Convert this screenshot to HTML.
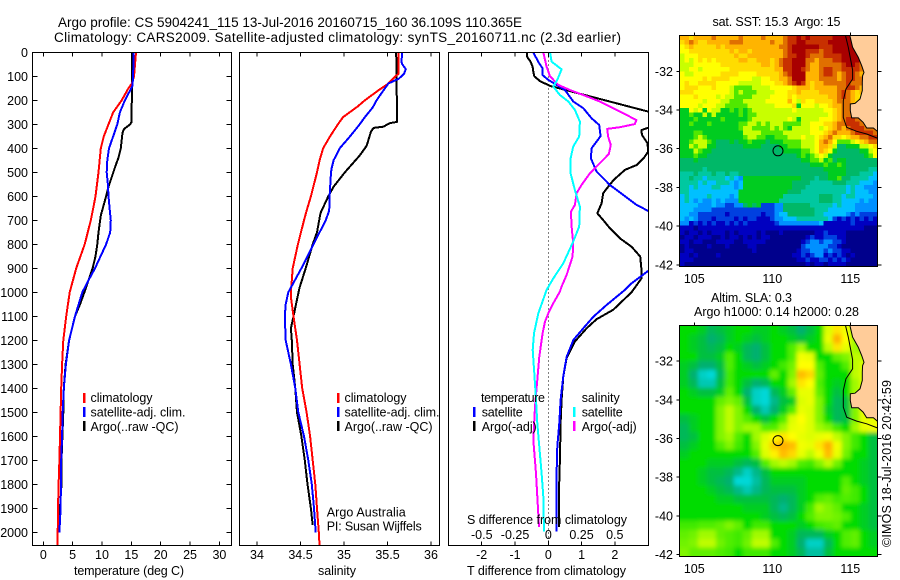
<!DOCTYPE html>
<html lang="en">
<head>
<meta charset="utf-8">
<title>Argo profile CS 5904241_115</title>
<style>
html,body{margin:0;padding:0;background:#fff;width:900px;height:580px;overflow:hidden}
svg{display:block}
text{font-family:"Liberation Sans",sans-serif;font-size:12.5px;fill:#000}
.ttl{font-size:13.5px}
</style>
</head>
<body>
<svg id="fig" xmlns="http://www.w3.org/2000/svg" width="900" height="580" viewBox="0 0 900 580">
<defs>
<clipPath id="cp1"><rect x="32.5" y="52.5" width="199" height="493"/></clipPath>
<clipPath id="cp2"><rect x="239.5" y="52.5" width="200" height="493"/></clipPath>
<clipPath id="cp3"><rect x="448.5" y="52.5" width="200" height="493"/></clipPath>
<clipPath id="cpm1"><rect x="680" y="35.5" width="197.5" height="231"/></clipPath>
<clipPath id="cpm2"><rect x="680" y="325.5" width="197.5" height="231"/></clipPath>
<filter id="smooth" x="-10%" y="-10%" width="120%" height="120%"><feGaussianBlur stdDeviation="2"/></filter>
</defs>
<rect width="900" height="580" fill="#fff"/>

<text class="ttl" x="58" y="27" textLength="464">Argo profile: CS 5904241_115 13-Jul-2016 20160715_160 36.109S 110.365E</text>
<text class="ttl" x="54" y="42" textLength="567">Climatology: CARS2009. Satellite-adjusted climatology: synTS_20160711.nc (2.3d earlier)</text>

<g id="panelT" ></g>
<g id="panelS"></g>
<g id="panelD"></g>
<g id="map1"></g>
<g id="map2"></g>

<text x="74" y="575" textLength="110">temperature (deg C)</text>
<text x="318" y="575" textLength="38">salinity</text>
<text x="467" y="575" textLength="159">T difference from climatology</text>

<g>
<rect x="83" y="393" width="2.5" height="10" fill="#f00"/>
<text x="90.5" y="402" textLength="62">climatology</text>
<rect x="83" y="407" width="2.5" height="10" fill="#00f"/>
<text x="90.5" y="416.5" textLength="95">satellite-adj. clim.</text>
<rect x="83" y="421" width="2.5" height="10" fill="#000"/>
<text x="90.5" y="431" textLength="88">Argo(..raw -QC)</text>
</g>
<g>
<rect x="337" y="393" width="2.5" height="10" fill="#f00"/>
<text x="344.5" y="402" textLength="62">climatology</text>
<rect x="337" y="407" width="2.5" height="10" fill="#00f"/>
<text x="344.5" y="416.5" textLength="95">satellite-adj. clim.</text>
<rect x="337" y="421" width="2.5" height="10" fill="#000"/>
<text x="344.5" y="431" textLength="88">Argo(..raw -QC)</text>
</g>
<text x="326.7" y="516.7" textLength="79">Argo Australia</text>
<text x="326.7" y="530.7" textLength="95">PI: Susan Wijffels</text>
<g>
<text x="481" y="402" textLength="64">temperature</text>
<rect x="473" y="407" width="2.5" height="10" fill="#00f"/>
<text x="481.7" y="416.5" textLength="41">satellite</text>
<rect x="473" y="421" width="2.5" height="10" fill="#000"/>
<text x="481.7" y="431" textLength="55">Argo(-adj)</text>
<text x="581.7" y="402" textLength="38">salinity</text>
<rect x="573" y="407" width="2.5" height="10" fill="#0ff"/>
<text x="581.7" y="416.5" textLength="41">satellite</text>
<rect x="573" y="421" width="2.5" height="10" fill="#f0f"/>
<text x="581.7" y="431" textLength="55">Argo(-adj)</text>
</g>
<text x="467" y="524" textLength="160">S difference from climatology</text>

<text x="712.5" y="26" textLength="128" xml:space="preserve">sat. SST: 15.3  Argo: 15</text>
<text x="711" y="302" textLength="81">Altim. SLA: 0.3</text>
<text x="694" y="316" textLength="165">Argo h1000: 0.14 h2000: 0.28</text>
<text x="891" y="547" transform="rotate(-90 891 547)" textLength="167">©IMOS 18-Jul-2016 20:42:59</text>
</svg>
<script>
/* tick labels */
var depthTicks=[0,100,200,300,400,500,600,700,800,900,1000,1100,1200,1300,1400,1500,1600,1700,1800,1900,2000];
var tempTicks=[0,5,10,15,20,25,30];
var salTicks=[34,34.5,35,35.5,36];
var tdiffTicks=[-2,-1,0,1,2];
var sdiffTicks=[-0.5,-0.25,0,0.25,0.5];
var lonTicks=[105,110,115];
var latTicks=[-32,-34,-36,-38,-40,-42];

/* temperature profiles */
var tClimDepth=[0,100,130,150,200,250,300,350,400,500,600,650,700,800,900,1000,1100,1200,1300,1400,1500,1600,1700,1800,1900,2000,2060];
var tClimValue=[15.8,15.45,15.1,14.5,13.35,11.9,11.1,10.3,9.8,9.4,8.9,8.5,8.1,7.05,5.6,4.5,3.9,3.4,3.2,3.05,2.95,2.85,2.75,2.6,2.5,2.45,2.4];
var tSatDepth=[0,100,140,200,250,300,350,400,450,500,550,600,650,700,750,800,900,950,1000,1100,1200,1300,1400,1500,1600,1700,1800,1900,2000];
var tSatValue=[15.4,15.3,15.2,13.9,13.05,12.6,11.9,11.2,10.9,10.8,11,11.1,11.3,11.5,11.4,10.7,8.8,7.7,6.65,5.4,4.4,3.85,3.5,3.3,3.2,3.05,3,2.95,2.75];
var tArgoDepth=[0,290,300,320,335,400,440,480,520,560,600,680,750,800,850,900,950,1000,1050,1100,1200,1300,1400,1500,1600,1700,1800,1900,1960];
var tArgoValue=[15.15,15.05,14.8,13.75,13.5,13.2,12.8,12.2,11.65,11.1,10.7,9.8,9.4,9.2,8.9,8.4,7.7,7,6.25,5.4,4.4,3.8,3.5,3.4,3.25,3.1,3.1,2.85,2.75];

/* salinity profiles */
var sClimDepth=[0,90,100,130,160,200,225,270,300,350,400,450,500,600,660,700,800,850,900,1000,1020,1100,1200,1300,1400,1500,1600,1700,1800,1900,2000,2060];
var sClimValue=[35.625,35.625,35.59,35.51,35.39,35.24,35.16,34.99,34.93,34.84,34.76,34.72,34.69,34.62,34.57,34.54,34.47,34.44,34.41,34.39,34.39,34.42,34.46,34.49,34.52,34.57,34.61,34.64,34.67,34.69,34.71,34.72];
var sSatDepth=[0,40,50,70,90,110,130,160,200,230,270,300,350,400,450,480,500,600,660,700,750,800,900,1000,1050,1100,1200,1300,1400,1500,1600,1700,1800,1900,2000];
var sSatValue=[35.67,35.66,35.67,35.71,35.69,35.63,35.51,35.45,35.375,35.33,35.24,35.18,35.07,34.95,34.88,34.86,34.85,34.835,34.83,34.79,34.72,34.65,34.51,34.36,34.33,34.32,34.33,34.39,34.44,34.475,34.54,34.59,34.63,34.655,34.675];
var sArgoDepth=[0,290,295,310,315,330,390,430,500,560,600,670,750,800,900,980,1030,1100,1150,1200,1300,1400,1500,1600,1700,1800,1900,1970];
var sArgoValue=[35.6,35.61,35.53,35.45,35.34,35.31,35.26,35.18,35.01,34.88,34.82,34.73,34.69,34.64,34.56,34.49,34.46,34.42,34.39,34.4,34.41,34.44,34.46,34.51,34.55,34.58,34.62,34.64];

/* temperature differences */
var dtArgoDepth=[0,20,40,60,80,100,120,140,247,280,314,324,344,379,414,442,469,490,532,560,587,629,671,699,733,775,810,851,907,942,1000,1073,1112,1150,1205,1275,1350,1448,1546,1685,1824,1977];
var dtArgoValue=[-0.65,-0.63,-0.53,-0.47,-0.45,-0.42,-0.25,0.05,3,3.5,3,2.8,2.81,2.98,3,2.86,2.66,2.3,1.96,1.8,1.65,1.6,1.47,1.65,1.85,2.15,2.5,2.76,2.8,2.8,2.5,1.95,1.45,1.15,0.8,0.55,0.45,0.4,0.37,0.35,0.32,0.32];
var dtSatDepth=[0,40,67,95,115,136,157,205,233,275,303,349,400,442,497,553,594,636,661,700,800,880,911,963,990,1053,1102,1150,1199,1269,1350,1448,1546,1643,1754,1997];
var dtSatValue=[-0.45,-0.3,-0.17,-0.17,0,0.25,0.5,0.75,1.05,1.3,1.53,1.57,1.3,1.28,1.45,1.85,2.25,2.65,3,3.6,3.9,3.4,3,2.5,2.3,1.75,1.35,1.05,0.75,0.55,0.45,0.37,0.33,0.27,0.25,0.24];

/* salinity differences */
var dsArgoDepth=[0,60,100,136,157,178,205,240,282,299,312,319,351,386,424,462,504,553,587,636,664,726,796,851,928,976,997,1046,1088,1122,1171,1268,1365,1476,1615,1754,1851,1977];
var dsArgoValue=[-0.0375,-0.0125,0.0125,0.075,0.1625,0.2625,0.3875,0.5125,0.6625,0.65,0.5375,0.4425,0.45,0.47,0.455,0.3875,0.3125,0.25,0.2125,0.2,0.17,0.175,0.1875,0.1825,0.1375,0.1,0.0875,0.0375,0,-0.025,-0.0425,-0.0675,-0.0825,-0.1,-0.1125,-0.0925,-0.0825,-0.07];
var dsSatDepth=[0,39,71,115,143,178,205,240,289,351,393,442,504,574,643,726,789,879,942,990,1088,1171,1240,1337,1448,1546,1643,1754,1851,1997];
var dsSatValue=[0.0125,0.025,0.1,0.0675,0.0375,0.0875,0.15,0.2,0.2375,0.2325,0.1875,0.1675,0.1675,0.2,0.2375,0.2325,0.1875,0.1125,0.0375,-0.0125,-0.075,-0.1075,-0.1175,-0.105,-0.0925,-0.0825,-0.0675,-0.05,-0.0375,-0.0325];

/* float position */
var argoLon=[110.365];
var argoLat=[-36.109];

/* coastline and shelf-edge contour */
var coastLon=[114.98,115.15,115.51,115.73,115.88,115.79,115.77,115.77,115.62,115.30,115.0,115.0,115.09,115.51,115.83,116.05,116.48,116.73];
var coastLat=[-30.18,-30.76,-31.28,-31.71,-32.06,-32.23,-32.57,-33.0,-33.43,-33.66,-33.69,-34.04,-34.41,-34.41,-34.64,-34.93,-34.93,-35.1];
var shelfLon=[114.70,114.87,115.15,115.15,114.72,114.55,114.55,114.77,115.41,116.05,116.73];
var shelfLat=[-30.18,-30.76,-31.93,-32.40,-32.92,-33.52,-34.38,-34.90,-35.10,-35.24,-35.45];

/* SST colour-bin grid, north to south */
var sstBins=[
[12,12,11,12,12,12,12,13,12,12,12,12,12,13,12,12,12,12,13,12,12,12,12,13,14,14,15,14,15,14,14,14,14,14,15,15,15,15,15,15,13,13,13,13],
[11,12,13,12,11,11,12,12,12,12,12,13,13,13,12,12,12,12,12,12,13,12,12,13,14,14,15,15,14,14,14,14,14,15,15,15,15,15,15,15,13,13,13,13],
[10,11,12,11,11,11,11,11,12,11,12,12,12,12,12,12,12,12,12,12,12,12,13,13,14,15,15,15,15,15,15,14,14,14,15,15,15,15,15,15,13,13,13,13],
[10,10,11,11,11,11,11,11,11,11,11,12,11,12,12,11,12,12,12,12,12,12,12,13,14,15,15,15,14,14,14,13,14,14,15,15,15,15,15,15,13,13,13,13],
[9,10,10,10,11,11,11,11,11,11,11,11,12,11,11,12,12,12,12,12,12,12,12,13,14,14,15,15,14,13,13,13,14,14,14,14,15,15,15,15,13,13,13,13],
[9,10,9,10,11,10,11,10,11,11,11,11,11,12,12,11,11,12,12,12,11,12,13,14,14,15,15,15,13,13,12,13,13,13,14,14,15,15,15,15,13,13,13,13],
[9,9,9,10,10,10,10,10,10,11,11,11,11,11,11,11,11,11,12,12,11,12,13,14,14,15,15,15,13,12,12,13,13,13,13,13,14,15,15,14,13,13,13,13],
[9,9,10,10,9,10,10,10,10,10,10,11,11,11,11,11,11,11,11,11,11,12,12,14,14,15,15,14,13,12,12,13,14,14,13,13,14,14,14,14,13,13,13,13],
[10,9,9,10,10,10,10,10,10,11,11,11,11,10,10,10,10,11,11,11,11,11,12,13,14,15,15,15,12,12,12,13,14,14,13,12,13,14,14,13,12,13,13,13],
[10,10,10,10,10,11,10,11,11,11,11,10,10,10,10,10,9,9,10,10,11,11,12,12,13,15,15,15,12,12,12,13,13,13,13,12,13,14,14,13,13,13,13,13],
[10,11,10,10,11,11,11,11,10,10,10,10,10,9,9,9,9,9,10,10,10,11,11,12,13,14,15,14,12,11,12,12,13,13,13,13,13,14,13,13,13,13,13,13],
[10,11,11,11,10,10,10,11,10,10,10,9,8,8,8,8,9,9,9,9,10,10,10,10,10,11,12,12,12,11,12,12,12,12,12,13,13,14,14,13,12,13,13,13],
[11,11,11,10,10,10,10,10,10,10,10,9,8,9,8,8,8,9,9,9,9,10,10,10,11,11,12,11,11,11,11,12,12,12,12,13,14,13,12,11,12,13,13,13],
[10,10,10,11,10,10,10,10,9,10,9,9,8,8,8,8,9,9,9,9,10,10,10,10,11,10,11,11,11,11,11,11,11,12,12,13,14,13,12,11,10,13,13,13],
[10,10,10,10,10,9,10,10,10,9,9,8,8,8,9,9,9,9,9,10,10,10,10,10,12,10,9,11,10,10,11,11,11,11,12,13,13,13,12,11,10,13,13,13],
[10,10,10,10,9,10,10,10,9,9,8,8,8,8,8,9,9,9,9,9,9,10,10,10,10,11,7,10,10,10,9,10,10,11,12,12,13,13,12,9,7,13,13,13],
[7,7,10,9,10,7,10,9,9,7,7,8,7,8,7,8,9,9,9,9,9,9,9,9,9,10,9,9,9,9,9,9,10,10,11,12,13,13,13,12,13,13,13,13],
[7,7,8,7,7,9,7,9,7,7,7,7,7,8,7,8,8,9,9,9,9,9,9,9,9,9,9,9,9,9,9,9,9,10,11,12,13,13,13,13,13,13,13,13],
[7,7,7,8,7,7,7,7,7,8,7,7,7,7,7,8,9,9,9,9,9,9,9,9,10,9,7,9,9,9,9,10,10,10,11,12,13,14,14,13,13,13,13,13],
[7,7,8,7,7,7,8,7,7,7,7,7,7,8,8,9,9,8,9,8,9,9,9,8,8,8,8,9,9,10,10,10,11,11,12,13,13,14,14,14,13,13,13,13],
[7,7,7,7,7,7,7,7,7,7,7,7,7,8,9,9,8,8,8,8,9,8,9,8,7,9,9,9,9,10,10,9,10,11,12,13,12,13,14,14,14,13,13,13],
[7,7,7,8,8,7,7,7,7,7,7,7,7,7,9,9,9,9,8,8,8,8,8,9,9,9,9,9,9,10,10,10,11,12,13,12,12,12,13,14,14,14,14,13],
[7,7,7,8,9,8,7,7,7,7,7,7,7,7,8,9,9,8,8,7,7,8,8,8,9,9,9,10,9,9,10,11,12,13,11,11,10,11,12,12,13,13,14,14],
[7,7,8,9,9,9,8,7,6,6,6,7,6,7,7,8,7,7,7,6,7,7,7,8,8,8,8,9,9,9,10,12,13,12,10,8,8,8,9,10,11,12,13,13],
[7,7,9,8,9,9,7,7,6,6,6,6,6,6,7,7,7,7,6,6,6,6,7,7,8,8,8,9,9,9,10,12,12,11,9,6,6,7,7,7,9,9,10,11],
[7,7,7,9,8,7,7,6,6,6,6,6,6,6,6,6,6,6,6,6,6,6,6,7,7,7,7,8,8,9,10,12,11,10,7,6,6,6,6,6,7,7,9,10],
[7,7,7,8,7,7,6,6,6,6,6,6,6,6,6,6,6,6,6,6,6,6,6,6,6,6,7,8,7,8,9,10,9,7,6,6,6,6,6,6,6,7,8,10],
[6,6,6,7,6,6,6,6,6,6,6,6,6,6,6,6,6,6,6,6,6,6,6,6,6,6,6,7,7,8,8,9,7,8,6,7,7,6,6,6,6,6,6,6],
[6,6,6,6,6,6,6,6,6,6,6,6,6,6,6,6,6,6,6,6,6,6,6,6,6,6,6,6,6,7,7,7,8,7,7,8,7,6,6,6,6,6,6,6],
[6,6,6,6,6,5,6,6,6,6,6,6,6,6,6,6,6,6,6,6,6,6,6,6,6,6,6,6,6,6,6,6,7,7,7,7,7,6,6,6,6,6,5,5],
[5,5,5,6,5,5,5,6,5,5,6,5,5,6,6,6,6,6,6,6,6,6,6,6,6,6,6,6,6,6,6,6,6,7,7,7,7,6,6,6,5,5,5,4],
[5,5,6,5,5,4,5,5,5,5,4,5,4,3,7,7,7,7,7,7,7,7,7,7,7,7,7,6,6,6,5,6,6,7,7,8,6,6,5,5,5,5,4,4],
[5,5,5,5,4,5,4,4,5,5,5,4,3,4,7,7,7,7,7,7,7,7,7,7,7,6,6,6,6,5,5,5,5,5,6,6,6,5,5,5,4,4,4,3],
[5,5,4,5,4,4,4,5,5,4,4,4,3,4,7,7,7,7,7,7,7,7,7,7,7,6,6,6,5,5,5,5,5,5,5,5,5,4,5,4,4,3,3,3],
[5,5,4,4,4,4,4,4,4,4,4,4,4,7,7,7,7,7,7,7,7,7,7,7,6,6,6,5,5,5,5,5,5,5,5,5,5,4,5,4,4,4,3,3],
[4,5,4,4,4,4,5,4,4,4,4,3,4,7,7,7,7,7,7,7,7,7,7,5,5,5,5,5,5,5,5,6,6,6,5,5,4,5,5,4,4,4,4,3],
[4,5,4,3,4,3,3,4,3,4,3,3,3,7,7,7,7,7,7,7,7,7,5,5,5,5,5,5,5,5,5,6,6,6,5,5,4,4,4,4,3,4,3,3],
[4,4,4,4,3,3,3,4,3,3,2,2,3,3,6,7,6,7,2,2,2,3,3,6,6,6,6,6,6,5,5,5,5,5,4,5,4,4,4,3,3,3,3,3],
[4,4,4,3,3,3,3,2,2,2,2,2,2,2,2,2,2,2,2,2,2,3,3,6,6,6,6,6,6,6,5,5,5,4,4,4,4,4,4,3,3,3,3,3],
[4,4,3,3,2,2,2,2,2,2,1,2,2,2,2,2,2,2,1,2,2,3,4,4,6,6,6,6,6,6,5,5,4,4,4,4,4,3,2,3,2,2,2,2],
[4,3,4,3,2,2,2,1,2,2,2,2,1,2,1,2,2,1,1,1,2,3,3,4,4,4,5,5,5,5,5,5,5,4,2,1,2,1,2,1,2,1,2,1],
[3,3,1,2,1,2,1,2,1,1,2,1,2,1,2,1,1,1,1,1,1,2,3,3,3,3,3,3,3,3,3,4,1,1,1,1,1,1,2,1,1,1,1,1],
[1,1,1,0,1,1,1,1,1,1,1,1,1,1,1,1,1,1,1,1,1,1,1,1,1,1,1,1,1,1,1,1,1,1,1,1,1,1,1,1,1,0,0,0],
[1,0,1,1,0,1,0,1,1,1,0,1,0,1,1,1,1,0,1,0,0,0,1,0,0,0,0,0,0,0,1,1,2,1,1,1,1,0,0,0,0,0,0,0],
[0,1,1,0,1,1,1,0,0,1,0,1,1,0,1,0,1,0,1,1,0,0,0,0,0,0,0,0,1,2,1,1,2,2,2,1,1,0,0,0,0,0,0,0],
[1,1,0,1,1,0,0,0,1,1,1,1,0,0,1,1,1,1,1,0,0,0,0,0,0,0,0,1,2,3,3,2,3,3,2,2,1,0,0,0,0,0,0,0],
[0,1,0,0,0,0,1,0,0,0,1,0,0,0,0,1,1,0,0,0,0,0,0,0,0,0,0,2,3,3,3,3,3,2,2,1,0,0,0,0,0,0,0,0],
[0,1,1,0,0,0,0,0,0,0,0,0,0,0,0,0,1,0,0,0,0,0,0,0,0,0,1,2,2,3,3,3,2,3,2,2,1,1,0,0,0,0,0,0],
[1,1,0,1,0,0,0,0,1,0,0,0,0,0,0,0,0,0,0,0,0,0,0,0,0,1,1,2,1,2,3,3,1,2,1,2,1,0,1,0,0,0,0,0],
[1,1,1,0,0,0,0,0,0,0,0,0,0,0,0,0,0,0,0,0,0,0,0,0,0,0,1,1,2,1,1,2,2,1,2,1,2,1,0,0,0,0,0,0],
[1,0,0,0,0,0,0,0,0,0,0,0,0,0,0,0,0,0,0,0,0,0,0,0,0,0,0,0,1,0,1,1,0,1,1,1,1,0,0,0,0,0,0,0]
];

/* sea level anomaly grid in cm, north to south */
var slaCm=[
[-2,-2,-4,-8,-6,-4,-2,-2,-4,-4,-2,-4,-6,-10,-6,-2,12,22,16,6,3,3],
[-2,-4,-6,-10,-8,-4,-2,-4,-6,-4,-2,-2,-4,-6,-4,-2,14,30,18,8,3,3],
[-2,-4,-6,-8,-6,-2,-4,-8,-10,-6,-2,-2,3,8,-2,-2,10,22,14,8,3,3],
[-2,-2,-6,-6,-4,3,-2,-8,-10,-6,-2,-2,3,16,14,-2,-2,4,6,10,10,3],
[-4,-6,-10,-10,-6,3,-2,-4,-6,-4,-2,2,5,18,18,3,-2,-2,3,10,12,3],
[-4,-10,-18,-20,-8,2,-2,-2,-2,-2,4,-2,6,28,24,4,-2,-2,-2,10,12,3],
[-4,-8,-16,-16,-6,2,-2,-6,-10,-8,-2,-2,8,22,18,3,-2,-4,-2,8,12,3],
[-2,-4,-6,-6,-4,4,-2,-10,-18,-20,-8,-4,4,14,14,4,-2,-6,-2,8,12,8],
[-2,-2,-2,-2,4,6,4,-6,-18,-22,-12,-6,-4,12,14,6,-2,-8,-6,6,12,10],
[-2,-2,-2,-2,6,10,6,-2,-10,-16,-10,-4,3,14,12,6,-4,-8,-6,6,14,12],
[-6,-4,-2,-2,6,10,6,3,-2,-6,-2,3,12,18,12,6,-2,-8,-6,6,14,14],
[-8,-4,-2,-2,6,10,6,8,8,3,3,8,14,16,12,8,6,2,-2,8,14,16],
[-8,-6,-2,-2,6,8,3,-2,8,12,18,22,18,14,12,14,16,10,6,2,-2,-6],
[-6,-4,-2,-2,3,6,2,-2,6,14,26,34,28,16,14,22,30,16,6,2,-2,-6],
[-4,-2,-2,-2,-2,-2,-2,-2,3,12,20,28,24,14,10,16,28,14,5,-2,-2,-6],
[-2,-2,-2,-4,-4,-4,-6,-8,-6,3,8,10,8,3,2,6,10,5,-2,-2,-4,-6],
[-2,-2,-4,-6,-6,-8,-12,-18,-12,-6,-2,-2,-2,-2,-2,-2,-2,-2,-2,-2,-4,-6],
[-2,-2,-4,-6,-8,-10,-20,-22,-14,-8,-4,-4,-4,-4,-2,-2,-2,-2,3,-2,-4,-6],
[-2,-2,-2,-4,-6,-8,-12,-16,-12,-8,-6,-6,-6,-4,-2,-2,-2,-2,4,2,-2,-6],
[-2,-2,-2,-2,-4,-4,-6,-6,-6,-6,-8,-10,-8,-4,-2,3,4,2,3,2,-2,-6],
[-2,-2,-2,-2,-2,-2,-2,-4,-4,-4,-8,-12,-8,-4,2,8,6,4,-2,-2,-4,-6],
[-2,-2,-2,-2,-2,-2,-2,-2,-2,-4,-6,-8,-6,-2,3,6,6,5,3,-2,-4,-6],
[2,2,3,3,4,6,4,-2,2,2,-2,-2,-2,-4,-2,2,3,4,-2,-2,-4,-6],
[4,5,8,8,4,3,2,4,8,8,-2,-2,-4,-8,-8,-8,-4,-2,3,4,-2,-4],
[5,6,10,10,5,3,2,5,10,10,3,-2,-4,-10,-18,-18,-8,-2,3,4,-2,-4],
[6,4,4,4,3,2,-2,2,2,2,-2,-2,-4,-8,-14,-14,-6,-2,-2,-2,-2,-2]
];

/* colour tables */
var sstColors=["#00008c","#0000c0","#0040e0","#0090ff","#00c0ff","#00c8a0","#00b868","#00cc20","#50e800","#c8ff00","#ffff00","#ffdc00","#ffb400","#e07000","#c83000","#a80000"];
var slaStops=[-20,-14,-10,-6,-2,3,8,12,18,24,30];
var slaColors=[[0,216,216],[0,192,160],[0,176,112],[0,192,64],[0,220,0],[80,238,0],[160,250,0],[220,255,0],[255,255,0],[255,216,0],[255,176,0]];

var NS="http://www.w3.org/2000/svg";
function svgEl(tag,attrs,parent){
  var el=document.createElementNS(NS,tag);
  for(var k in attrs){el.setAttribute(k,attrs[k]);}
  parent.appendChild(el);
  return el;
}
function yDepth(d){return 52.3+0.24*d;}
function xTemp(v){return 43.3+5.87*v;}
function xSal(v){return 257+87*(v-34);}
function xDT(v){return 548.3+33.3*v;}
function xDS(v){return 548.3+133*v;}
function xLon(v){return 772.3+15.6*(v-110);}
function yLat1(v){return 148.7+19.35*(-36-v);}
function yLat2(v){return 438.5+19.35*(-36-v);}
function slaColor(v){
  var n=slaStops.length;
  if(v<=slaStops[0]){return "rgb("+slaColors[0].join(",")+")";}
  for(var i=1;i<n;i++){
    if(v<=slaStops[i]){
      var f=(v-slaStops[i-1])/(slaStops[i]-slaStops[i-1]);
      var a=slaColors[i-1],b=slaColors[i];
      return "rgb("+Math.round(a[0]+f*(b[0]-a[0]))+","+Math.round(a[1]+f*(b[1]-a[1]))+","+Math.round(a[2]+f*(b[2]-a[2]))+")";
    }
  }
  return "rgb("+slaColors[n-1].join(",")+")";
}

function drawFrame(parent,x0,x1,y0,y1,xticks,xFn,labelled,yticks,ybase){
  var f=svgEl("rect",{x:x0,y:y0,width:x1-x0,height:y1-y0,fill:"none",stroke:"#000","stroke-width":1,"shape-rendering":"crispEdges"},parent);
  
  
  xticks.forEach(function(t){
    var px=xFn(t);
    var a=svgEl("line",{x1:px,x2:px,y1:y0,y2:y0+4,stroke:"#000","shape-rendering":"crispEdges"},parent);
    
    
    var b=svgEl("line",{x1:px,x2:px,y1:y1,y2:y1-4,stroke:"#000","shape-rendering":"crispEdges"},parent);
    
    
    var l=svgEl("text",{x:px,y:559,"text-anchor":"middle"},parent);
    
    
    l.textContent=String(t);
  });
  if(yticks){
    yticks.forEach(function(t){
      var py=yDepth(t);
      var a=svgEl("line",{x1:x0,x2:x0+5,y1:py,y2:py,stroke:"#000","shape-rendering":"crispEdges"},parent);
      
      
      var b=svgEl("line",{x1:x1,x2:x1-5,y1:py,y2:py,stroke:"#000","shape-rendering":"crispEdges"},parent);
      
      
      var l=svgEl("text",{x:28,y:py+4.5,"text-anchor":"end"},parent);
      
      
      l.textContent=String(t);
    });
  }
}
function drawSeries(parent,name,values,depths,xFn,color,clip){
  var pts=[];
  for(var i=0;i<values.length;i++){pts.push(xFn(values[i]).toFixed(1)+","+yDepth(depths[i]).toFixed(1));}
  var p=svgEl("polyline",{points:pts.join(" "),fill:"none",stroke:color,"stroke-width":2,"stroke-linejoin":"round","shape-rendering":"crispEdges","clip-path":"url(#"+clip+")"},parent);
  
  
}

/* profile panels */
var pT=document.getElementById("panelT");
drawSeries(pT,"temperature-argo-line",tArgoValue,tArgoDepth,xTemp,"#000","cp1");
drawSeries(pT,"temperature-climatology-line",tClimValue,tClimDepth,xTemp,"#f00","cp1");
drawSeries(pT,"temperature-satellite-line",tSatValue,tSatDepth,xTemp,"#00f","cp1");
drawFrame(pT,32.5,231.5,52.5,545.5,tempTicks,xTemp,true,depthTicks);

var pS=document.getElementById("panelS");
drawSeries(pS,"salinity-argo-line",sArgoValue,sArgoDepth,xSal,"#000","cp2");
drawSeries(pS,"salinity-climatology-line",sClimValue,sClimDepth,xSal,"#f00","cp2");
drawSeries(pS,"salinity-satellite-line",sSatValue,sSatDepth,xSal,"#00f","cp2");
drawFrame(pS,239.5,439.5,52.5,545.5,salTicks,xSal,true,null);

var pD=document.getElementById("panelD");
var zero=svgEl("line",{x1:xDT(0),x2:xDT(0),y1:52.5,y2:545.5,stroke:"#000","stroke-dasharray":"1 3","shape-rendering":"crispEdges"},pD);


drawSeries(pD,"t-difference-argo-line",dtArgoValue,dtArgoDepth,xDT,"#000","cp3");
drawSeries(pD,"t-difference-satellite-line",dtSatValue,dtSatDepth,xDT,"#00f","cp3");
drawSeries(pD,"s-difference-argo-line",dsArgoValue,dsArgoDepth,xDS,"#f0f","cp3");
drawSeries(pD,"s-difference-satellite-line",dsSatValue,dsSatDepth,xDS,"#0ff","cp3");
drawFrame(pD,448.5,648.5,52.5,545.5,tdiffTicks,xDT,true,null);
sdiffTicks.forEach(function(t){
  var l=svgEl("text",{x:xDS(t),y:539,"text-anchor":"middle"},pD);
  
  
  l.textContent=String(t);
});

/* maps */
function drawCoast(parent,yFn,clip,y1){
  var landPts=[];
  for(var i=0;i<coastLon.length;i++){landPts.push(xLon(coastLon[i]).toFixed(1)+","+yFn(coastLat[i]).toFixed(1));}
  var poly=landPts.concat([xLon(118)+","+yFn(coastLat[coastLat.length-1]),xLon(118)+","+(y1-20),xLon(coastLon[0])+","+(y1-20)]);
  var land=svgEl("polygon",{points:poly.join(" "),fill:"#ffcc99","clip-path":"url(#"+clip+")"},parent);
  
  
  var c=svgEl("polyline",{points:landPts.join(" "),fill:"none",stroke:"#000","stroke-width":1,"clip-path":"url(#"+clip+")"},parent);
  
  
  var sp=[];
  for(var j=0;j<shelfLon.length;j++){sp.push(xLon(shelfLon[j]).toFixed(1)+","+yFn(shelfLat[j]).toFixed(1));}
  var s=svgEl("polyline",{points:sp.join(" "),fill:"none",stroke:"#000","stroke-width":1,"clip-path":"url(#"+clip+")"},parent);
  
  
}
function drawMapAxes(parent,yFn,y0,y1,xLabelY){
  var f=svgEl("rect",{x:679.5,y:y0,width:198,height:y1-y0,fill:"none",stroke:"#000","stroke-width":1,"shape-rendering":"crispEdges"},parent);
  
  
  lonTicks.forEach(function(t){
    var px=xLon(t);
    var a=svgEl("line",{x1:px,x2:px,y1:y0,y2:y0-3,stroke:"#000","shape-rendering":"crispEdges"},parent);
    
    
    var l=svgEl("text",{x:px,y:xLabelY,"text-anchor":"middle"},parent);
    
    
    l.textContent=String(t);
  });
  latTicks.forEach(function(t){
    var py=yFn(t);
    var a=svgEl("line",{x1:679.5,x2:676.5,y1:py,y2:py,stroke:"#000","shape-rendering":"crispEdges"},parent);
    
    
    var b=svgEl("line",{x1:877.5,x2:881.5,y1:py,y2:py,stroke:"#000","shape-rendering":"crispEdges"},parent);
    
    
    var l=svgEl("text",{x:673,y:py+4.5,"text-anchor":"end"},parent);
    
    
    l.textContent=String(t);
  });
}
function drawMarker(parent,yFn){
  var m=svgEl("circle",{cx:xLon(argoLon[0]),cy:yFn(argoLat[0]),r:5,fill:"none",stroke:"#000","stroke-width":1},parent);
  
  
}

var m1=document.getElementById("map1");
var g1=svgEl("g",{"clip-path":"url(#cpm1)"},m1);


var cw1=197.5/44,ch1=231/sstBins.length;
sstBins.forEach(function(row,r){
  row.forEach(function(v,c){
    var cell=svgEl("rect",{x:(680+c*cw1).toFixed(2),y:(35.5+r*ch1).toFixed(2),width:(cw1+0.5).toFixed(2),height:(ch1+0.5).toFixed(2),fill:sstColors[v],"shape-rendering":"crispEdges"},g1);
    
    
  });
});
drawCoast(m1,yLat1,"cpm1",35.5);
drawMarker(m1,yLat1);
drawMapAxes(m1,yLat1,35.5,266.5,283);

var m2=document.getElementById("map2");
var clip2=svgEl("g",{"clip-path":"url(#cpm2)"},m2);


var g2=svgEl("g",{filter:"url(#smooth)"},clip2);


var cw2=197.5/22,ch2=231/slaCm.length;
slaCm.forEach(function(row,r){
  row.forEach(function(v,c){
    var ex=c===0?14:0,ey=r===0?14:0;
    var exr=c===21?14:0,eyb=r===slaCm.length-1?14:0;
    var cell=svgEl("rect",{x:(680+c*cw2-ex).toFixed(2),y:(325.5+r*ch2-ey).toFixed(2),width:(cw2+0.5+ex+exr).toFixed(2),height:(ch2+0.5+ey+eyb).toFixed(2),fill:slaColor(v)},g2);
    
    
  });
});
drawCoast(m2,yLat2,"cpm2",325.5);
drawMarker(m2,yLat2);
drawMapAxes(m2,yLat2,325.5,556.5,573);
</script>
</body>
</html>
